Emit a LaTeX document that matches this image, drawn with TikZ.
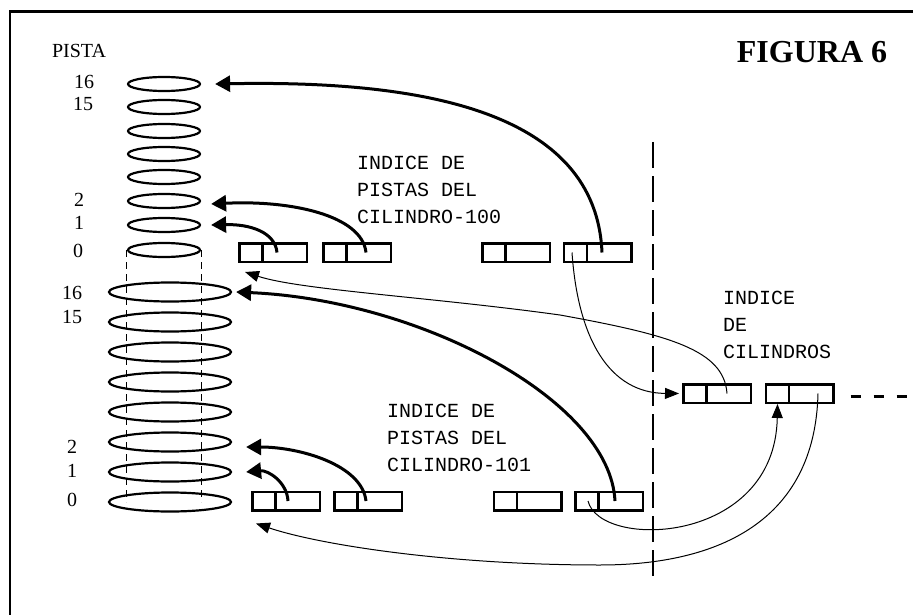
\documentclass[tikz,border=0pt]{standalone}
\usepackage{fontspec}
\setmainfont{Liberation Serif}
\setmonofont{Liberation Mono}
\usetikzlibrary{shapes.geometric,arrows.meta}

\begin{document}
\begin{tikzpicture}[x=1pt, y=-1pt,
        disk/.style={ellipse, draw, line width=2.2pt, inner sep=0pt},
        topdisk/.style={disk, minimum width=72pt, minimum height=14pt},
        lowdisk/.style={disk, minimum width=122pt, minimum height=19pt},
        recbox/.style={draw, line width=2.5pt, minimum width=67.5pt, minimum height=18.5pt, inner sep=0pt,
            path picture={\draw[line width=2.5pt] ([xshift=23pt]path picture bounding box.north west) -- ([xshift=23pt]path picture bounding box.south west);}},
        tracknum/.style={font=\fontsize{20}{22}\selectfont, inner sep=0pt},
        idxtext/.style={font=\ttfamily\fontsize{20}{27}\selectfont, align=left, anchor=base west, inner sep=0pt},
        bigarrow/.style={-{Triangle[length=15pt, width=16pt]}, line width=3pt},
        smallarrow/.style={-{Triangle[length=14pt, width=11pt]}, line width=1pt}]
        \useasboundingbox (0,0) rectangle (913,615);
        \draw[line width=2.5pt] (10,615) -- (10,11.5) -- (913,11.5);

        % Titles
        \node[font=\bfseries\fontsize{32}{34}\selectfont] (title) at (812,52) {FIGURA 6};
        \node[tracknum] (pista) at (79,51) {PISTA};

        % Cylinders
        \foreach \n/\y in {16/84, 15/107, c/131, b/154, a/177, 2/201, 1/225, 0/250}
            \node[topdisk] (t\n) at (164,\y) {};
        \foreach \n/\y in {16/292, 15/322, c/352, b/382, a/412, 2/442, 1/472, 0/502}
            \node[lowdisk] (u\n) at (170,\y) {};
        \draw[line width=1pt, dash pattern=on 7pt off 5pt] (t0.west) -- (t0.west |- u0.center);
        \draw[line width=1pt, dash pattern=on 7pt off 5pt] (t0.east) -- (t0.east |- u0.center);

        \node[tracknum] (n16) at (84,82) {16};
        \node[tracknum] (n15) at (83,104) {15};
        \node[tracknum] (n2) at (79,200) {2};
        \node[tracknum] (n1) at (79,223) {1};
        \node[tracknum] (n0) at (78,251) {0};
        \node[tracknum] (m16) at (72,293) {16};
        \node[tracknum] (m15) at (72,317) {15};
        \node[tracknum] (m2) at (72,447) {2};
        \node[tracknum] (m1) at (72,471) {1};
        \node[tracknum] (m0) at (72,500) {0};

        % Indexes
        \node[recbox] (b1) at (273,252.5) {};
        \node[recbox] (b2) at (357,252.5) {};
        \node[recbox] (b3) at (516,252.5) {};
        \node[recbox] (b4) at (597.5,252.5) {};
        \node[recbox] (c1) at (286,501) {};
        \node[recbox] (c2) at (368,501) {};
        \node[recbox] (c3) at (527.5,501) {};
        \node[recbox] (c4) at (609,501) {};
        \node[recbox] (i1) at (717,393.5) {};
        \node[recbox] (i2) at (799.5,393.5) {};
        \draw[line width=3pt, dash pattern=on 10pt off 13pt] ([xshift=16pt, yshift=-3pt]i2.east) -- ++(57,0);

        \node[idxtext] (lbl100) at (357,223) {INDICE DE\\PISTAS DEL\\CILINDRO-100};
        \node[idxtext] (lbl101) at (387,471) {INDICE DE\\PISTAS DEL\\CILINDRO-101};
        \node[idxtext] (lblcil) at (723,358) {INDICE\\DE\\CILINDROS};

        \draw[line width=1.2pt, dash pattern=on 26pt off 8pt] (653,142) -- (653,583);

        % Connections
        \draw[bigarrow] ([xshift=4.5pt]b4.center) .. controls (596,110) and (420,80) .. ([xshift=14pt]t16.east);
        \draw[bigarrow] ([xshift=9pt]b2.center) .. controls (362,215) and (290,200) .. ([xshift=10pt, yshift=-3pt]t2.east);
        \draw[bigarrow] ([xshift=4pt]b1.center) .. controls (275,232) and (250,224) .. ([xshift=10pt]t1.east);

        \draw[bigarrow] ([xshift=6pt]c4.center) .. controls (610,400) and (420,300) .. ([xshift=4pt]u16.east);
        \draw[bigarrow] ([xshift=-2pt]c2.center) .. controls (362,465) and (300,447) .. ([xshift=14pt, yshift=-5pt]u2.east);
        \draw[bigarrow] ([xshift=2pt]c1.center) .. controls (287,482) and (268,470) .. ([xshift=14pt]u1.east);

        \draw[smallarrow] ([xshift=-25.5pt]b4.center) .. controls (578,340) and (610,393) .. ([xshift=-3pt]i1.west);
        \draw[smallarrow] ([xshift=10pt]i1.center) .. controls (724,350) and (670,335) .. (560,315)
            .. controls (430,297) and (300,290) .. ([xshift=7pt, yshift=-9pt]b1.south west);
        \draw[smallarrow] ([xshift=-21pt]c4.center) .. controls (600,550) and (775,545) .. ([xshift=-22pt]i2.south);
        \draw[smallarrow] ([xshift=18.5pt]i2.center) .. controls (815,520) and (720,565) .. (600,565)
            .. controls (450,565) and (320,545) .. ([xshift=5pt, yshift=-12pt]c1.south west);
    \end{tikzpicture}
\end{document}
